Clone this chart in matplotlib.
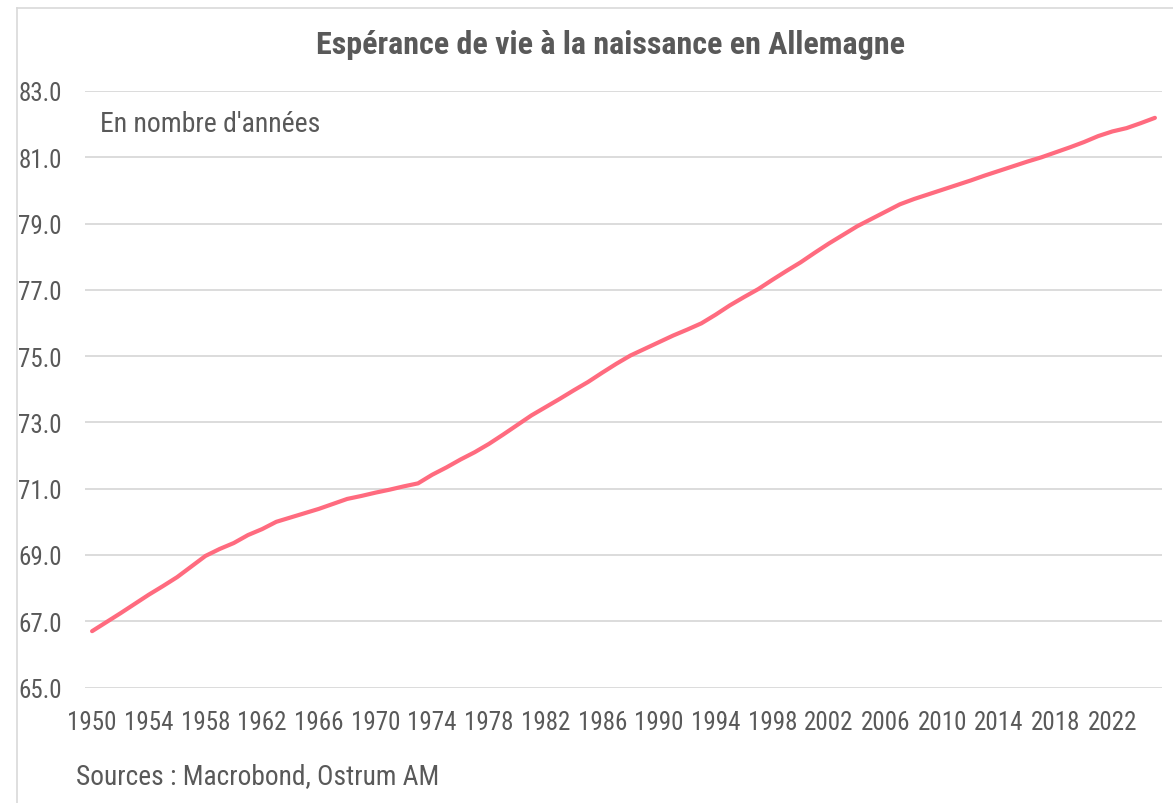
import matplotlib
matplotlib.use("Agg")
import matplotlib.pyplot as plt
from matplotlib.lines import Line2D
from matplotlib import font_manager

years = list(range(1950, 2026))
life_expectancy = [
    66.70, 66.97, 67.24, 67.52, 67.80, 68.06, 68.33, 68.65, 68.97, 69.18,
    69.36, 69.60, 69.78, 70.00, 70.13, 70.26, 70.39, 70.54, 70.69, 70.78,
    70.88, 70.97, 71.07, 71.16, 71.42, 71.64, 71.88, 72.10, 72.35, 72.63,
    72.92, 73.21, 73.46, 73.71, 73.97, 74.22, 74.50, 74.77, 75.02, 75.22,
    75.42, 75.62, 75.80, 75.99, 76.25, 76.53, 76.78, 77.02, 77.30, 77.57,
    77.83, 78.12, 78.40, 78.66, 78.92, 79.14, 79.36, 79.58, 79.74, 79.88,
    80.02, 80.16, 80.30, 80.45, 80.59, 80.73, 80.87, 81.00, 81.15, 81.30,
    81.46, 81.64, 81.78, 81.88, 82.03, 82.19,
]
x_tick_years = list(range(1950, 2023, 4))
y_ticks = [65, 67, 69, 71, 73, 75, 77, 79, 81, 83]

title = "Espérance de vie à la naissance en Allemagne"
unit_note = "En nombre d'années"
source_note = "Sources : Macrobond, Ostrum AM"

names = {f.name for f in font_manager.fontManager.ttflist}
fam = ["Roboto Condensed", "Liberation Sans Narrow", "Liberation Sans", "DejaVu Sans"]
fam = [f for f in fam if f in names] or ["DejaVu Sans"]
plt.rcParams["font.family"] = fam

W, H = 1173, 804
fig = plt.figure(figsize=(W / 100, H / 100), dpi=100)
fig.patch.set_facecolor("white")

left_px, right_px, top_px, bottom_px = 85, 1162, 92, 688.5
ax = fig.add_axes([left_px / W, 1 - bottom_px / H,
                   (right_px - left_px) / W, (bottom_px - top_px) / H])

text_color = "#595959"
ax.plot(years, life_expectancy, color="#FF6B7F", lw=3.0,
        solid_capstyle="round", solid_joinstyle="round", zorder=3)

ax.set_xlim(1949.5, 2025.5)
ax.set_ylim(65, 83)
ax.set_yticks(y_ticks)
ax.set_yticklabels([f"{v:.1f}" for v in y_ticks])
ax.set_xticks(x_tick_years)
ax.set_xticklabels([str(y) for y in x_tick_years])
ax.tick_params(axis="both", length=0, labelsize=18, labelcolor=text_color)
ax.tick_params(axis="y", pad=16.5)
ax.tick_params(axis="x", pad=16)
ax.grid(axis="y", color="#D9D9D9", lw=1.3, zorder=0)
for s in ax.spines.values():
    s.set_visible(False)

fig.text(610 / W, 1 - 45 / H, title, ha="center", va="center",
         fontsize=23, fontweight="bold", color=text_color)
fig.text(100 / W, 1 - 124 / H, unit_note, ha="left", va="center",
         fontsize=20, color=text_color)
fig.text(76 / W, 1 - 777 / H, source_note, ha="left", va="center",
         fontsize=19.7, color=text_color)

# chart-area border (left and top edges visible)
fig.add_artist(Line2D([17 / W, 17 / W], [0, 1 - 9 / H], transform=fig.transFigure,
                      color="#D9D9D9", lw=1.2))
fig.add_artist(Line2D([17 / W, 1], [1 - 9 / H, 1 - 9 / H], transform=fig.transFigure,
                      color="#D9D9D9", lw=1.2))

fig.savefig("out.png", dpi=100, facecolor="white")
